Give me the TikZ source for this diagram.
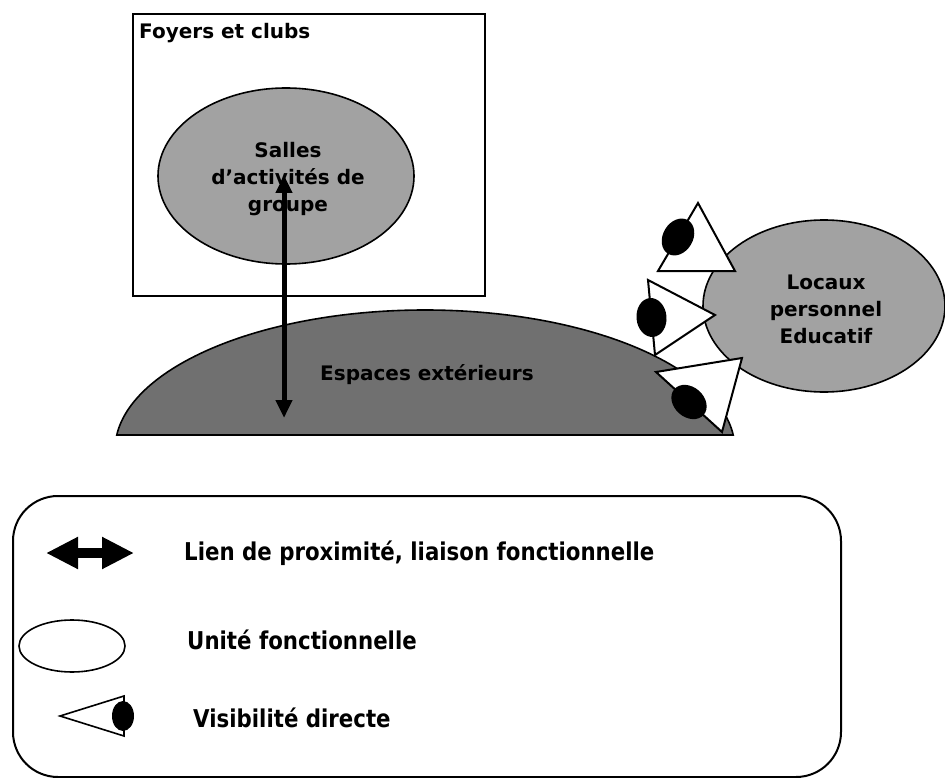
\documentclass[tikz,border=0pt]{standalone}
\usepackage{fontspec}
\setmainfont{DejaVu Sans}
\newfontfamily\legfont[FakeStretch=0.87]{DejaVu Sans}
\usetikzlibrary{arrows.meta,shapes.geometric,calc}
\definecolor{lightfill}{RGB}{162,162,162}
\definecolor{darkfill}{RGB}{112,112,112}
\begin{document}
\begin{tikzpicture}[x=1pt,y=-1pt,
  lbl/.style={font=\bfseries\fontsize{20}{27}\selectfont, align=center, text=black, inner sep=0pt},
  unit/.style={draw=black, line width=1.6pt, fill=lightfill, ellipse, inner sep=0pt},
  eyecone/.style={draw=black, line width=2pt, fill=white, line join=miter},
  pupil/.style={ellipse, fill=black, inner sep=0pt, minimum width=39pt, minimum height=30pt},
  legtext/.style={font=\legfont\bfseries\fontsize{24.5}{28}\selectfont, anchor=west, inner sep=0pt},
  link/.style={line width=5pt, {Triangle[length=18pt,width=16pt]}-{Triangle[length=18pt,width=16pt]}}
]
\useasboundingbox (0,0) rectangle (945,778);

% Foyers et clubs box
\node[draw, line width=2pt, minimum width=352pt, minimum height=282pt, anchor=north west, inner sep=0pt] (foyers) at (132,13) {};
\node[lbl, anchor=west] (foyerslbl) at (139,33) {Foyers et clubs};

% Espaces exterieurs dome
\begin{scope}
  \clip (100,290) rectangle (760,435);
  \draw[fill=darkfill, line width=1.6pt] (425,450) ellipse [x radius=310, y radius=140];
\end{scope}
\draw[line width=1.6pt] (116.8,435) -- (733.2,435);
\node[lbl] (espaces) at (427,375) {Espaces extérieurs};

% Salles
\node[unit, minimum width=256pt, minimum height=176pt] (salles) at (286,176) {};
\node[lbl] (sallestxt) at (288,179) {Salles\\d'activités de\\groupe};

% Locaux
\node[unit, minimum width=242pt, minimum height=172pt] (locaux) at (824,306) {};
\node[lbl] (locauxtxt) at (826,309) {Locaux\\personnel\\Educatif};

% link arrow
\coordinate (arrtop) at (284,175);
\coordinate (arrbot) at (284,418);
\draw[link] (arrtop) -- (arrbot);

% visibility symbols
\coordinate (e1a) at (698,203); \coordinate (e1b) at (658,271); \coordinate (e1c) at (735,271);
\draw[eyecone] (e1a) -- (e1b) -- (e1c) -- cycle;
\node[pupil, rotate=59.5] (p1) at ($(e1a)!0.5!(e1b)$) {};

\coordinate (e2a) at (648,280); \coordinate (e2b) at (655,355); \coordinate (e2c) at (715,315);
\draw[eyecone] (e2a) -- (e2b) -- (e2c) -- cycle;
\node[pupil, rotate=95.3] (p2) at ($(e2a)!0.5!(e2b)$) {};

\coordinate (e3a) at (656,372); \coordinate (e3b) at (722,432); \coordinate (e3c) at (742,358);
\draw[eyecone] (e3a) -- (e3b) -- (e3c) -- cycle;
\node[pupil, rotate=138.3] (p3) at ($(e3a)!0.5!(e3b)$) {};

% Legend
\node[draw, line width=2pt, rounded corners=45pt, minimum width=828pt, minimum height=281pt, anchor=north west, inner sep=0pt] (legend) at (12,495) {};

\coordinate (la1) at (46,553); \coordinate (la2) at (134,553);
\draw[line width=10pt, {Triangle[length=32pt,width=30pt]}-{Triangle[length=32pt,width=30pt]}] (la1) -- (la2);
\node[legtext] (t1) at (184,553) {Lien de proximité, liaison fonctionnelle};

\node[draw, ellipse, line width=1.6pt, minimum width=106pt, minimum height=52pt, inner sep=0pt] (legunit) at (72,646) {};
\node[legtext] (t2) at (187,640) {Unité fonctionnelle};

\coordinate (le1) at (60,716); \coordinate (le2) at (124,696); \coordinate (le3) at (124,736);
\draw[eyecone, line width=1.6pt] (le1) -- (le2) -- (le3) -- cycle;
\node[ellipse, fill=black, inner sep=0pt, minimum width=22pt, minimum height=30pt] (legpupil) at (123,716) {};
\node[legtext] (t3) at (193,718) {Visibilité directe};
\end{tikzpicture}
\end{document}
